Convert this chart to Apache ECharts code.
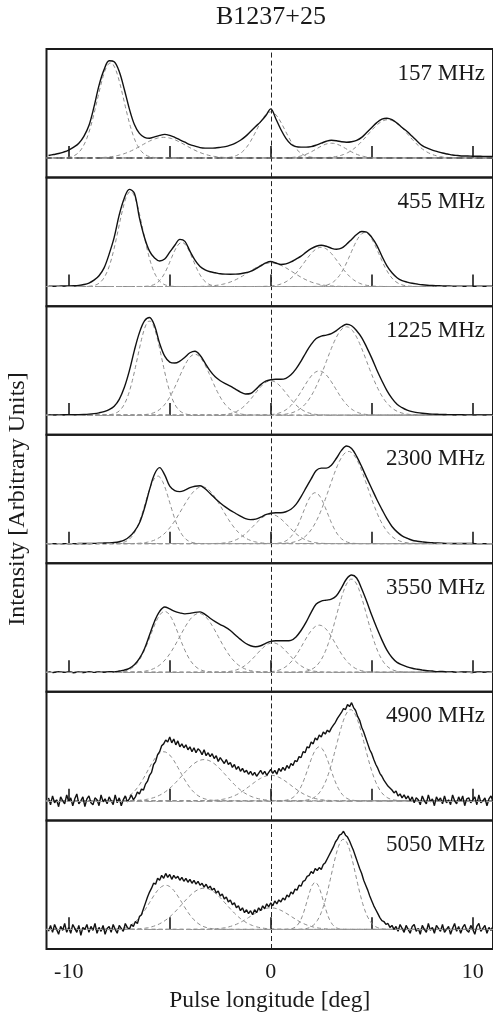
<!DOCTYPE html>
<html>
<head>
<meta charset="utf-8">
<script src="https://cdn.jsdelivr.net/npm/echarts@6/dist/echarts.min.js"></script>
<style>
  html, body { margin: 0; padding: 0; background: #fff; }
  #chart { width: 493px; height: 1015px; }
</style>
</head>
<body>
<div id="chart"></div>
<script>
// B1237+25 average profiles at seven frequencies with fitted Gaussian components.
// Profiles are in percent of peak intensity, sampled on a regular longitude grid.

const pulsarName = 'B1237+25';
const bandLabels = ['157 MHz', '455 MHz', '1225 MHz', '2300 MHz', '3550 MHz', '4900 MHz', '5050 MHz'];
const xTicks = [-10, -5, 0, 5, 10];
const xTickLabels = [-10, 0, 10];
const longStart = -11;          // first longitude sample (deg)
const stepSmooth = 0.25;        // sample spacing of the low-noise profiles (deg)
const stepNoisy = 0.1;          // sample spacing of the noisy high-frequency profiles (deg)

// 157 MHz profile
const prof157 = [2.5,3.5,4.5,6,8,11,15,22,33,52,74,90,99,98,88,70,50,34,25,21,
  20,21.5,23,24,23,21,18.5,16,13.5,12,10.5,10,10,10.2,10.8,11.5,13,15,18,22,
  27,32,37,43,50,40,29,20,14,11.5,11,11,11.5,13,15,17,18,17.5,16.5,16,
  16.5,18,21,26,31,36,39.5,40.5,39,35.5,31,27,22,17,12.5,10,8,6.5,5,4,
  3,2.5,2,2,1.8,1.7,1.6,1.5,1.5];
// 455 MHz profile
const prof455 = [0.3,0.3,0.4,0.5,0.6,0.8,1.2,2,3.5,6.5,11,19,33,50,73,90,99,95,70,50,
  36,29,26,28,35,42,48,46,36,27,20.5,17,15,14,13,12.6,12.5,12.6,13,14,
  15.5,18,21,24,25.5,24,22.5,23,25,28,31,35,38.5,41,42,41,39,38,39,43,
  48,53,56,55.5,50,42,31,21,14,9,6,4.5,3.3,2.5,1.8,1.3,1,0.8,0.6,0.5,
  0.4,0.4,0.3,0.3,0.3,0.3,0.3,0.3,0.3];
// 1225 MHz profile
const prof1225 = [0.2,0.2,0.2,0.3,0.3,0.4,0.5,0.7,1,1.5,2.3,3.5,5.5,9,16,28,45,66,84,96,
  99.5,91,73,60,54,53,55,59,63.5,65,61,53,45,39,35,32,29.5,26.5,23.5,21.5,
  22,26,31,34.5,36,36.5,36.5,37.5,41,47,55,64,72,78,80.5,81.5,83,86,90,92.5,
  91,86,79,69,58,46,35,25,17,11,7.5,5,3.5,2.5,1.8,1.3,1,0.8,0.6,0.5,
  0.4,0.3,0.3,0.2,0.2,0.2,0.2,0.2,0.2];
// 2300 MHz profile
const prof2300 = [0,0,0,0,0,0,0.1,0.1,0.2,0.3,0.4,0.6,0.8,1.2,2,3.5,7,12.5,21,36,
  55,71,77.5,70,58.5,54,53,54.5,57,58.5,59,56,51,46,41.5,37.5,34,31,28,25.5,
  24.5,25,27,29.5,31,31.5,31.5,32.5,35,40,48,57,66,74.5,77,77,80,87,95,99.5,
  97,89,78.5,67,56,45,35,25.5,17.5,12,8,5.5,3.5,2.5,1.8,1.2,0.9,0.6,0.4,0.3,
  0.2,0.2,0.1,0.1,0.1,0,0,0,0];
// 3550 MHz profile
const prof3550 = [0.3,-0.4,0.5,-0.2,0.4,-0.5,0.2,-0.3,0.5,-0.2,0.3,0,0.6,0.4,1.2,2.2,4,7.5,14,24,
  38,52,62,66.5,64.5,62,60.5,59.5,60,61,61.5,59,55,51.5,48.5,46,42.5,38,33.5,29.5,
  27,26,27,29.5,31.5,32,32,32,32.5,36,42.5,51,61,69.5,72.5,73.5,74.5,78,86,95,
  99,96,85,72,58,45,33,22.5,15,10,7.5,5.5,4,3,2.2,1.5,1.2,0.6,0.9,0.3,
  0.5,-0.2,0.4,0.1,-0.3,0.4,0,0.3,-0.2];
// 4900 MHz profile
const prof4900 = [
  3,-4,5,-2,1,-6,4,0,-3,6,   -1,3,-5,2,7,-3,0,4,-6,2,
  5,-2,-4,3,1,-5,6,-1,2,-3,  4,0,-4,6,-2,3,-5,1,5,-1,
  2,6,1,4,9,7,12,11,17,20,   26,29,37,40,47,50,56,58,62,60,
  65,59,63,57,61,55,58,54,57,52,  55,50,54,49,53,51,47,52,46,49,
  45,48,43,46,40,44,41,38,42,37,  39,34,37,32,35,30,33,29,31,27,
  30,26,29,25,28,31,27,30,26,29,  32,28,31,27,33,30,34,31,36,33,
  38,36,41,40,45,44,50,49,55,54,  60,58,64,62,67,65,70,68,72,70,
  74,77,80,84,87,90,94,93,98,96,  100,95,92,86,82,75,70,64,58,52,
  48,42,37,33,28,25,21,18,15,13,  11,8,10,5,7,3,6,2,5,0,
  4,-2,3,1,-4,5,0,-3,6,-1,   2,-5,4,0,3,-3,5,-2,1,-4,
  6,0,-3,4,-1,5,-5,2,3,-2,   1,4,-4,6,-2,0,3,-5,2,5,
  -1];
// 5050 MHz profile
const prof5050 = [
  -2,4,-3,5,0,-5,3,-1,6,-3,  2,-4,5,1,-3,4,-6,2,0,5,
  -3,3,-1,6,-4,2,-2,4,-5,1,  3,-3,5,0,-4,4,1,-2,6,2,
  0,5,3,8,6,13,15,21,27,33,  38,42,47,46,52,50,55,52,57,53,
  56,51,55,52,54,50,53,49,52,48,  51,47,50,46,49,45,47,43,46,42,
  44,40,42,37,39,34,36,31,33,28,  30,25,27,22,24,19,22,17,20,16,
  19,15,20,17,22,19,24,21,26,23,  27,24,29,26,30,28,32,30,35,33,
  38,36,41,40,45,44,49,50,54,55,  59,57,62,60,63,61,66,68,72,76,
  80,84,89,92,96,97,100,96,94,90,  85,80,74,68,62,57,50,45,40,34,
  29,24,20,16,12,9,8,5,6,2,  4,0,3,-2,5,1,-3,4,0,-4,
  3,5,-2,1,-5,4,0,-3,6,-1,   2,-4,4,1,-2,5,-3,0,3,-5,
  1,6,-2,3,-4,2,5,-1,-3,4,   0,-5,3,6,-2,1,4,-4,2,-1,
  3];

// Fitted Gaussian components per band: [centre (deg), sigma (deg), peak (%)]
const comp157 = [[-7.93, 0.66, 97], [-5.3, 1.1, 21], [0.0, 0.7, 47], [3.0, 0.75, 15], [5.8, 1.0, 39]];
const comp455 = [[-6.94, 0.6, 97], [-4.4, 0.55, 45], [0.0, 1.1, 24], [2.5, 0.85, 40], [4.65, 0.7, 55]];
const comp1225 = [[-6.0, 0.6, 96], [-3.75, 0.8, 62], [0.0, 0.8, 35], [2.4, 0.8, 45], [3.75, 1.0, 90]];
const comp2300 = [[-5.6, 0.6, 69], [-3.4, 1.0, 58], [0.0, 0.85, 30], [2.2, 0.6, 52], [3.85, 0.95, 94]];
const comp3550 = [[-5.25, 0.7, 62], [-3.55, 0.95, 60], [0.1, 0.8, 30], [2.4, 0.8, 48], [4.0, 0.75, 95]];
const comp4900 = [[-5.3, 0.8, 50], [-3.3, 1.1, 42], [0.0, 1.0, 26], [2.4, 0.55, 55], [3.95, 0.7, 93]];
const comp5050 = [[-5.2, 0.8, 45], [-3.3, 1.1, 42], [0.0, 1.0, 22], [2.2, 0.4, 48], [3.6, 0.6, 92]];

const profiles = [prof157, prof455, prof1225, prof2300, prof3550, prof4900, prof5050];
const steps = [stepSmooth, stepSmooth, stepSmooth, stepSmooth, stepSmooth, stepNoisy, stepNoisy];
const components = [comp157, comp455, comp1225, comp2300, comp3550, comp4900, comp5050];

const X_MIN = -11.1, X_MAX = 11.0;
const Y_MIN = -20, Y_MAX = 111;
const SERIF = '"Liberation Serif", "DejaVu Serif", serif';
const nPanels = bandLabels.length;
const plotTop = 49, plotBottom = 949;
const panelH = (plotBottom - plotTop) / nPanels;
const plotLeft = 46.5;
const zeroX = 272;   // horizontal pixel of longitude 0, used to centre the headline

function profilePairs(values, step) {
  return values.map((v, i) => [+(longStart + i * step).toFixed(3), v]);
}

function componentPairs(c) {
  const [mu, sig, amp] = c;
  const pts = [];
  for (let x = X_MIN; x <= X_MAX + 1e-9; x += 0.05) {
    pts.push([x, amp * Math.exp(-((x - mu) * (x - mu)) / (2 * sig * sig))]);
  }
  return pts;
}

const grids = [], xAxes = [], yAxes = [], series = [], titles = [];

for (let i = 0; i < nPanels; i++) {
  const top = plotTop + i * panelH;
  const last = i === nPanels - 1;
  grids.push({
    left: plotLeft, right: -2.7, top: top, height: panelH,
    show: true, borderColor: '#1a1a1a', borderWidth: 2, backgroundColor: 'transparent'
  });
  xAxes.push({
    type: 'value', gridIndex: i, min: X_MIN, max: X_MAX,
    axisLine: { show: false },
    splitLine: { show: false },
    axisTick: { show: true, inside: true, length: 12, customValues: xTicks,
      lineStyle: { color: '#1a1a1a', width: 1.6 } },
    axisLabel: { show: last, customValues: xTickLabels, margin: 12,
      fontFamily: SERIF, fontSize: 22, color: '#1a1a1a' },
    name: last ? 'Pulse longitude [deg]' : '',
    nameLocation: 'middle', nameGap: 40,
    nameTextStyle: { fontFamily: SERIF, fontSize: 23.5, color: '#1a1a1a' }
  });
  yAxes.push({
    type: 'value', gridIndex: i, min: Y_MIN, max: Y_MAX,
    axisLine: { show: false }, axisTick: { show: false },
    axisLabel: { show: false }, splitLine: { show: false }
  });
  titles.push({
    text: bandLabels[i], right: 8, top: top + 13, padding: 0,
    textStyle: { fontFamily: SERIF, fontSize: 23, fontWeight: 'normal', color: '#1a1a1a' }
  });

  components[i].forEach(c => {
    series.push({
      type: 'line', xAxisIndex: i, yAxisIndex: i, data: componentPairs(c),
      showSymbol: false, silent: true, z: 2,
      lineStyle: { color: '#8c8c8c', width: 1, type: [4, 3] }
    });
  });

  const noisy = steps[i] === stepNoisy;
  series.push({
    type: 'line', xAxisIndex: i, yAxisIndex: i,
    data: profilePairs(profiles[i], steps[i]),
    showSymbol: false, silent: true, z: 3,
    smooth: noisy ? false : 0.35,
    lineStyle: { color: '#111', width: noisy ? 1.4 : 1.4 },
    markLine: {
      silent: true, symbol: 'none', label: { show: false }, animation: false,
      data: [
        { xAxis: 0, lineStyle: { color: '#222', width: 1, type: [5, 3] } },
        { yAxis: 0, lineStyle: { color: i === 0 ? '#555' : '#999', width: i === 0 ? 1.6 : 1, type: [6, 4] } }
      ]
    }
  });
}

const chart = echarts.init(document.getElementById('chart'), null, { renderer: 'canvas' });
chart.setOption({
  animation: false,
  backgroundColor: '#fff',
  title: titles,
  grid: grids,
  xAxis: xAxes,
  yAxis: yAxes,
  series: series,
  graphic: [
    {
      type: 'text', x: zeroX - 1, y: 17,
      style: { text: pulsarName, font: '26px ' + SERIF, fill: '#1a1a1a',
        textAlign: 'center', textVerticalAlign: 'middle' }
    },
    {
      type: 'text', x: 18, y: (plotTop + plotBottom) / 2, rotation: Math.PI / 2,
      style: { text: 'Intensity [Arbitrary Units]', font: '24px ' + SERIF, fill: '#1a1a1a',
        textAlign: 'center', textVerticalAlign: 'middle' }
    }
  ]
});
</script>
</body>
</html>
